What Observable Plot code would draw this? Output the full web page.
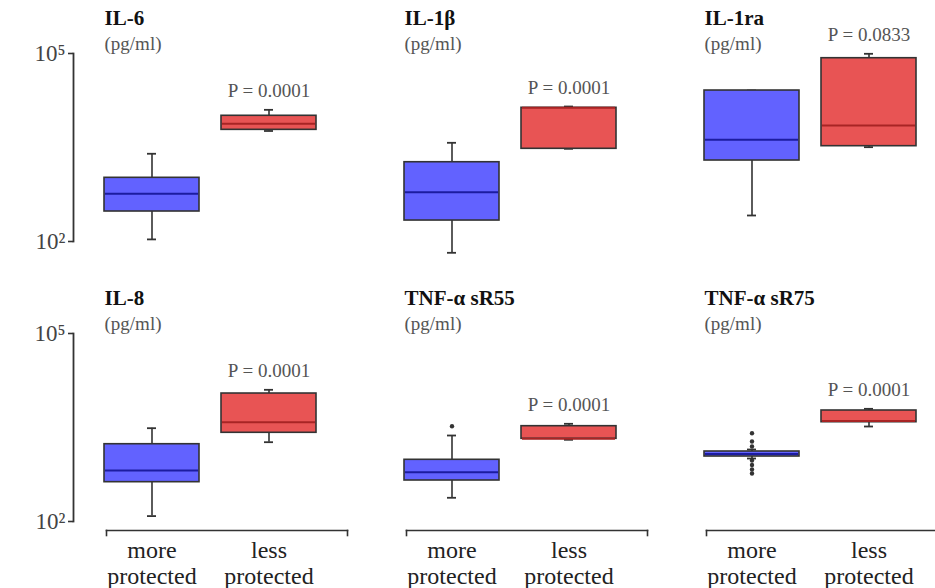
<!DOCTYPE html>
<html>
<head>
<meta charset="utf-8">
<script src="https://cdn.jsdelivr.net/npm/d3@7"></script>
<script src="https://cdn.jsdelivr.net/npm/@observablehq/plot@0.6"></script>
<style>
  body { margin: 0; background: #fff; }
  #wrap { position: relative; width: 935px; height: 588px; }
  #wrap svg.overlay { position: absolute; left: 0; top: 0; pointer-events: none; }
</style>
</head>
<body>
<div id="wrap"></div>
<script>
// ---- data ----
const panels = ["IL-6", "IL-1β", "IL-1ra", "IL-8", "TNF-α sR55", "TNF-α sR75"];
const units = ["(pg/ml)", "(pg/ml)", "(pg/ml)", "(pg/ml)", "(pg/ml)", "(pg/ml)"];
const pValues = ["P = 0.0001", "P = 0.0001", "P = 0.0833", "P = 0.0001", "P = 0.0001", "P = 0.0001"];
const groups = ["more", "less"];
const groupLabels = ["more\nprotected", "less\nprotected"];

// more protected: whisker low, Q1, median, Q3, whisker high
const moreLow  = [108, 66, 260, 122, 239, 1012];
const moreQ1   = [301, 216, 1960, 424, 451, 1089];
const moreMed  = [577, 612, 4195, 651, 612, 1194];
const moreQ3   = [1038, 1841, 25660, 1711, 965, 1309];
const moreHigh = [2512, 3758, 25660, 3083, 2356, 1409];

// less protected
const lessLow  = [5800, 3015, 3200, 1843, 2013, 3280];
const lessQ1   = [6050, 3015, 3318, 2603, 2088, 3840];
const lessMed  = [7550, 13600, 7100, 3840, 2088, 4000];
const lessQ3   = [10140, 13600, 84100, 11020, 3318, 5905];
const lessHigh = [12620, 14260, 98900, 12630, 3622, 6280];

// outliers (more protected group)
const outlierPanel = ["TNF-α sR55", "TNF-α sR75", "TNF-α sR75", "TNF-α sR75", "TNF-α sR75", "TNF-α sR75", "TNF-α sR75", "TNF-α sR75"];
const outlierValue = [3318, 2565, 1893, 1573, 940, 797, 676, 583];

// y-axis ticks
const yTicks = [100, 100000];
const yTickLabels = ["10²", "10⁵"];

// ---- styles ----
const boxFill = {more: "#6262ff", less: "#e85454"};
const medStroke = {more: "#1c1ca0", less: "#a82424"};
const ink = "#333";
const font = "'Liberation Serif', 'Times New Roman', serif";

// ---- tables built from the arrays ----
const COLS = 3;
const panelTable = panels.map((name, i) => ({name, unit: units[i], p: pValues[i], col: i % COLS, row: Math.floor(i / COLS)}));
const stats = [];
panelTable.forEach((pn, i) => {
  stats.push({...pn, group: "more", low: moreLow[i], q1: moreQ1[i], med: moreMed[i], q3: moreQ3[i], high: moreHigh[i]});
  stats.push({...pn, group: "less", low: lessLow[i], q1: lessQ1[i], med: lessMed[i], q3: lessQ3[i], high: lessHigh[i]});
});
const lessStats = stats.filter(d => d.group === "less");
const leftPanels = panelTable.filter(d => d.col === 0);
const outliers = outlierPanel.map((name, i) => {
  const pn = panelTable.find(p => p.name === name);
  return {col: pn.col, row: pn.row, group: "more", value: outlierValue[i]};
});

// ---- layout ----
const W = 935, H = 588;
const M_TOP = 53, M_BOTTOM = 67, M_LEFT = 73;
const FACET_H = 188;
const AXIS_GAP = 30;     // space between the y-axis line and the first box
const BRACKET_IN = 32;   // x bracket starts just right of that gap
const fyScale = {domain: [0, 1], paddingInner: 92 / 280, paddingOuter: 0, axis: null};
const yScale = {type: "log", domain: [100, 100000], axis: null};
const facet = {fx: "col", fy: "row"};

// main chart: boxes, x bracket, labels
const chart = Plot.plot({
  width: W,
  height: H,
  marginTop: M_TOP,
  marginBottom: M_BOTTOM,
  marginLeft: M_LEFT,
  marginRight: -14,
  style: {fontFamily: font, background: "#fff", color: "#222"},
  fx: {domain: [0, 1, 2], paddingInner: 0.0897, paddingOuter: 0, axis: null},
  fy: fyScale,
  x: {domain: groups, paddingInner: 0.1864, paddingOuter: 0.2542, align: 0.5},
  y: yScale,
  color: {type: "identity"},
  marks: [
    // x axis bracket (bottom row only)
    Plot.frame({anchor: "bottom", facetAnchor: "bottom", insetLeft: BRACKET_IN, dy: 9, stroke: ink, strokeWidth: 1.6}),
    Plot.frame({anchor: "left", facetAnchor: "bottom", insetLeft: BRACKET_IN, insetTop: FACET_H - 5, dy: 14, stroke: ink, strokeWidth: 1.6}),
    Plot.frame({anchor: "right", facetAnchor: "bottom", insetTop: FACET_H - 5, dy: 14, stroke: ink, strokeWidth: 1.6}),
    Plot.axisX({
      facetAnchor: "bottom", tickSize: 0, tickPadding: 19, fontSize: 24, lineHeight: 1.05,
      fill: "#222", tickFormat: d => groupLabels[groups.indexOf(d)], label: null
    }),
    // whiskers
    Plot.ruleX(stats, {...facet, x: "group", y1: "low", y2: "q1", stroke: ink, strokeWidth: 1.6}),
    Plot.ruleX(stats, {...facet, x: "group", y1: "q3", y2: "high", stroke: ink, strokeWidth: 1.6}),
    Plot.tickY(stats, {...facet, x: "group", y: "low", insetLeft: 43, insetRight: 43, stroke: ink, strokeWidth: 1.8}),
    Plot.tickY(stats, {...facet, x: "group", y: "high", insetLeft: 43, insetRight: 43, stroke: ink, strokeWidth: 1.8}),
    // boxes
    Plot.barY(stats, {...facet, x: "group", y1: "q1", y2: "q3", fill: d => boxFill[d.group], stroke: ink, strokeWidth: 1.6}),
    Plot.tickY(stats, {...facet, x: "group", y: "med", stroke: d => medStroke[d.group], strokeWidth: 2, insetLeft: 1, insetRight: 1}),
    // outliers
    Plot.dot(outliers, {...facet, x: "group", y: "value", r: 2.2, fill: ink, stroke: null}),
    // P values
    Plot.text(lessStats, {...facet, x: "group", y: "high", text: "p", dy: -19, fontSize: 19, fill: "#555"}),
    // titles
    Plot.text(panelTable, {...facet, frameAnchor: "top-left", text: "name", dx: AXIS_GAP, dy: -29, lineAnchor: "bottom", textAnchor: "start", fontWeight: "bold", fontSize: 21, fill: "#111"}),
    Plot.text(panelTable, {...facet, frameAnchor: "top-left", text: "unit", dx: AXIS_GAP, dy: -4, lineAnchor: "bottom", textAnchor: "start", fontSize: 19, fill: "#555"})
  ]
});

// y-axis brackets (line + 10² / 10⁵ ticks) for each row, same y scale and row layout
const yAxis = Plot.plot({
  width: 100,
  height: H,
  marginTop: M_TOP,
  marginBottom: M_BOTTOM,
  marginLeft: M_LEFT,
  marginRight: 0,
  style: {fontFamily: font, background: "transparent", color: "#222", overflow: "visible"},
  fy: fyScale,
  y: yScale,
  marks: [
    Plot.dot(leftPanels, {fy: "row", y: () => yTicks[0], r: 0}),
    Plot.frame({anchor: "left", stroke: ink, strokeWidth: 1.8}),
    Plot.axisY(yTicks, {
      tickSize: 5, tickPadding: 3, stroke: ink, strokeWidth: 1.6,
      tickFormat: d => yTickLabels[yTicks.indexOf(d)], fontSize: 23, fill: "#444", label: null
    })
  ]
});
yAxis.classList.add("overlay");

const wrap = document.getElementById("wrap");
wrap.append(chart);
wrap.append(yAxis);
</script>
</body>
</html>
